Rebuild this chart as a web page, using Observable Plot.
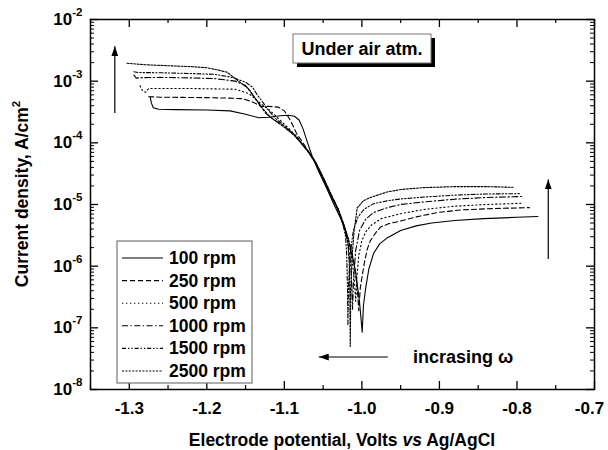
<!DOCTYPE html>
<html><head><meta charset="utf-8">
<script src="https://cdn.jsdelivr.net/npm/d3@7"></script>
<script src="https://cdn.jsdelivr.net/npm/@observablehq/plot@0.6"></script>
<style>
body{margin:0;background:#fff;}
svg{font-family:"Liberation Sans",Arial,sans-serif;}
</style></head><body><div id="chart"></div>
<script>
// ---- data: [potential (V vs Ag/AgCl), current density (A/cm2)] ----
const rpm100 = [[-1.273,5.6e-4],[-1.2715,4.4e-4],[-1.269,3.7e-4],[-1.262,3.5e-4],[-1.24,3.45e-4],[-1.20,3.4e-4],[-1.17,3.3e-4],[-1.15,2.9e-4],[-1.133,2.55e-4],[-1.12,2.6e-4],[-1.105,2.75e-4],[-1.095,2.8e-4],[-1.087,2.7e-4],[-1.081,2.35e-4],[-1.076,1.7e-4],[-1.07,1.0e-4],[-1.064,6.0e-5],[-1.056,3.5e-5],[-1.046,1.9e-5],[-1.036,1.0e-5],[-1.027,5.8e-6],[-1.019,3.2e-6],[-1.012,1.4e-6],[-1.008,8e-7],[-1.003,2.6e-7],[-0.9996,8.5e-8],[-0.998,2.3e-7],[-0.995,4.5e-7],[-0.991,9e-7],[-0.985,1.6e-6],[-0.977,2.3e-6],[-0.967,2.9e-6],[-0.95,3.8e-6],[-0.93,4.5e-6],[-0.91,5.0e-6],[-0.88,5.5e-6],[-0.843,5.9e-6],[-0.80,6.2e-6],[-0.773,6.4e-6]];
const rpm250 = [[-1.275,5.6e-4],[-1.26,5.5e-4],[-1.23,5.45e-4],[-1.2,5.4e-4],[-1.17,5.3e-4],[-1.154,5.2e-4],[-1.141,4.6e-4],[-1.13,3.9e-4],[-1.12,3.9e-4],[-1.108,3.8e-4],[-1.1,3.3e-4],[-1.092,2.3e-4],[-1.084,1.4e-4],[-1.076,1.0e-4],[-1.068,7e-5],[-1.06,4.8e-5],[-1.05,2.7e-5],[-1.04,1.45e-5],[-1.03,8e-6],[-1.022,4.2e-6],[-1.015,2.2e-6],[-1.01,1.1e-6],[-1.006,4.5e-7],[-1.004,1.9e-7],[-1.002,4.5e-7],[-0.997,1.1e-6],[-0.993,1.9e-6],[-0.989,2.6e-6],[-0.982,3.5e-6],[-0.976,4.3e-6],[-0.965,4.9e-6],[-0.95,5.4e-6],[-0.93,6.3e-6],[-0.9,7.5e-6],[-0.87,8.2e-6],[-0.83,8.6e-6],[-0.784,8.9e-6]];
const rpm500 = [[-1.286,8.4e-4],[-1.283,7.0e-4],[-1.279,6.6e-4],[-1.275,7.6e-4],[-1.25,7.6e-4],[-1.22,7.6e-4],[-1.19,7.5e-4],[-1.163,7.4e-4],[-1.146,6.3e-4],[-1.133,4.6e-4],[-1.118,3.3e-4],[-1.105,2.3e-4],[-1.094,1.7e-4],[-1.084,1.25e-4],[-1.07,7.5e-5],[-1.06,4.7e-5],[-1.05,2.6e-5],[-1.04,1.4e-5],[-1.03,7.8e-6],[-1.022,4e-6],[-1.016,2.2e-6],[-1.012,1.1e-6],[-1.0095,5.5e-7],[-1.008,2.7e-7],[-1.0065,6.5e-7],[-1.004,1.5e-6],[-1.0,2.6e-6],[-0.995,3.6e-6],[-0.988,4.6e-6],[-0.975,5.9e-6],[-0.95,7.1e-6],[-0.92,8.3e-6],[-0.88,9.4e-6],[-0.84,1.0e-5],[-0.792,1.05e-5]];
const rpm1000 = [[-1.294,1.25e-3],[-1.291,1.12e-3],[-1.285,1.14e-3],[-1.26,1.15e-3],[-1.22,1.13e-3],[-1.19,1.1e-3],[-1.163,1.0e-3],[-1.15,8.5e-4],[-1.141,6e-4],[-1.133,4.3e-4],[-1.124,3.0e-4],[-1.112,2.3e-4],[-1.1,1.85e-4],[-1.086,1.3e-4],[-1.07,7.3e-5],[-1.06,4.8e-5],[-1.05,2.6e-5],[-1.04,1.4e-5],[-1.03,7.8e-6],[-1.023,4.3e-6],[-1.018,2.4e-6],[-1.0145,1.1e-6],[-1.013,4.5e-7],[-1.012,2e-7],[-1.011,5.5e-7],[-1.008,1.8e-6],[-1.003,3.8e-6],[-0.995,5.8e-6],[-0.985,7.4e-6],[-0.967,8.9e-6],[-0.95,1.0e-5],[-0.92,1.1e-5],[-0.88,1.22e-5],[-0.84,1.3e-5],[-0.792,1.35e-5]];
const rpm1500 = [[-1.294,1.42e-3],[-1.288,1.38e-3],[-1.26,1.37e-3],[-1.22,1.33e-3],[-1.19,1.29e-3],[-1.167,1.15e-3],[-1.15,9.6e-4],[-1.141,8e-4],[-1.135,6e-4],[-1.128,4.6e-4],[-1.12,3.3e-4],[-1.11,2.4e-4],[-1.098,1.8e-4],[-1.085,1.3e-4],[-1.07,7.4e-5],[-1.06,4.9e-5],[-1.05,2.7e-5],[-1.04,1.45e-5],[-1.031,8.5e-6],[-1.025,5.2e-6],[-1.021,3e-6],[-1.0195,1.4e-6],[-1.0185,4e-7],[-1.018,1.1e-7],[-1.0172,5e-7],[-1.015,1.6e-6],[-1.011,3.8e-6],[-1.005,6.3e-6],[-0.997,8.4e-6],[-0.985,1.03e-5],[-0.967,1.15e-5],[-0.95,1.23e-5],[-0.92,1.32e-5],[-0.88,1.42e-5],[-0.84,1.48e-5],[-0.795,1.5e-5]];
const rpm2500 = [[-1.303,1.95e-3],[-1.28,1.85e-3],[-1.25,1.78e-3],[-1.22,1.72e-3],[-1.2,1.65e-3],[-1.189,1.55e-3],[-1.174,1.4e-3],[-1.159,1.0e-3],[-1.146,7.5e-4],[-1.137,5.2e-4],[-1.128,3.6e-4],[-1.118,2.6e-4],[-1.104,1.95e-4],[-1.088,1.35e-4],[-1.07,7.5e-5],[-1.06,5e-5],[-1.05,2.8e-5],[-1.04,1.5e-5],[-1.03,8.2e-6],[-1.022,4.3e-6],[-1.018,2.3e-6],[-1.0163,1.1e-6],[-1.0155,3.5e-7],[-1.015,5e-8],[-1.0143,4e-7],[-1.0125,1.5e-6],[-1.01,3.8e-6],[-1.006,8.8e-6],[-0.998,1.15e-5],[-0.989,1.3e-5],[-0.967,1.6e-5],[-0.95,1.75e-5],[-0.92,1.88e-5],[-0.88,1.95e-5],[-0.84,1.95e-5],[-0.805,1.9e-5]];

const seriesNames = ["100 rpm","250 rpm","500 rpm","1000 rpm","1500 rpm","2500 rpm"];
const seriesData = [rpm100, rpm250, rpm500, rpm1000, rpm1500, rpm2500];

const xTicks = [-1.3,-1.2,-1.1,-1.0,-0.9,-0.8,-0.7];
const xMinorTicks = [-1.35,-1.25,-1.15,-1.05,-0.95,-0.85,-0.75];
const yTicks = [1e-8,1e-7,1e-6,1e-5,1e-4,1e-3,1e-2];

// annotation anchors in data units
const arrowLeft = [[-1.318,3.0e-4],[-1.318,3.6e-3]];
const arrowRight = [[-0.759,1.28e-6],[-0.759,2.5e-5]];
const arrowBottom = [[-0.966,3.3e-8],[-1.055,3.3e-8]];
const arrowLabel = "incrasing \u03c9";
const boxLabel = "Under air atm.";

// ---- styles ----
const dashes = [null, "5,3", "1.3,2.7", "6,2.5,1.3,2.5", "4,2,1.3,2,1.3,2", "2,1.4"];
const W = 608, H = 450, mL = 90, mR = 14, mT = 19, mB = 61;
const innerW = W - mL - mR, innerH = H - mT - mB;
const yMinorTicks = d3.scaleLog().domain([1e-8,1e-2]).ticks().filter(v => !yTicks.some(t => Math.abs(t - v) / t < 1e-6));

const marks = [];
seriesData.forEach((s, i) => {
  marks.push(Plot.line(s, {x: d => d[0], y: d => d[1], stroke: "black", strokeWidth: 1.1, strokeDasharray: dashes[i] || undefined}));
});
marks.push(
  Plot.tickX(xTicks, {insetTop: innerH - 8, strokeWidth: 1.3}),
  Plot.tickX(xTicks, {insetBottom: innerH - 8, strokeWidth: 1.3}),
  Plot.tickX(xMinorTicks, {insetTop: innerH - 4, strokeWidth: 1.2}),
  Plot.tickX(xMinorTicks, {insetBottom: innerH - 4, strokeWidth: 1.2}),
  Plot.tickY(yTicks, {insetRight: innerW - 8, strokeWidth: 1.3}),
  Plot.tickY(yTicks, {insetLeft: innerW - 8, strokeWidth: 1.3}),
  Plot.tickY(yMinorTicks, {insetRight: innerW - 4, strokeWidth: 1}),
  Plot.tickY(yMinorTicks, {insetLeft: innerW - 4, strokeWidth: 1}),
  Plot.frame({stroke: "black", strokeWidth: 1.5}),
  Plot.axisX(xTicks, {tickSize: 0, tickPadding: 12, tickFormat: d => d.toFixed(1), fontSize: 17, fontWeight: "bold", fill: "black", label: null}),
  Plot.axisY(yTicks, {tickSize: 0, tickPadding: 8, tickFormat: d => String(Math.round(Math.log10(d))), fontSize: 17, fontWeight: "bold", fill: "black", label: null})
);

const svg = Plot.plot({
  width: W, height: H,
  marginLeft: mL, marginRight: mR, marginTop: mT, marginBottom: mB,
  x: {domain: [-1.35, -0.7], label: null},
  y: {type: "log", domain: [1e-8, 1e-2], label: null},
  style: {background: "white", color: "black", fontFamily: '"Liberation Sans", Arial, sans-serif'},
  marks
});
document.getElementById("chart").appendChild(svg);

const s = d3.select(svg);
const sx = svg.scale("x"), sy = svg.scale("y");

// keep the last x tick label inside the picture
const xLabels = s.selectAll('g[aria-label="x-axis tick label"] text').nodes();
if (xLabels.length) d3.select(xLabels[xLabels.length - 1]).attr("dx", -5);

// superscript tick labels
s.selectAll('g[aria-label="y-axis tick label"] text').each(function() {
  const e = this.textContent;
  const t = d3.select(this);
  t.text(null);
  t.append("tspan").text("10");
  t.append("tspan").attr("dy", "-9").attr("font-size", "11.5px").text(e);
});

// axis titles
s.append("text").attr("x", (mL + W - mR) / 2).attr("y", 446).attr("text-anchor", "middle")
  .attr("font-size", 17.5).attr("font-weight", "bold")
  .call(t => { t.append("tspan").text("Electrode potential, Volts ");
               t.append("tspan").attr("font-style", "italic").text("vs");
               t.append("tspan").text(" Ag/AgCl"); });
s.append("text").attr("transform", "translate(28,194) rotate(-90)").attr("text-anchor", "middle")
  .attr("font-size", 17.5).attr("font-weight", "bold")
  .call(t => { t.append("tspan").text("Current density, A/cm");
               t.append("tspan").attr("dy", "-8").attr("font-size", "11.5px").text("2"); });

// arrows
const defs = s.append("defs");
defs.append("marker").attr("id", "ah").attr("viewBox", "0 0 10 10").attr("refX", 10).attr("refY", 5)
  .attr("markerUnits", "userSpaceOnUse").attr("markerWidth", 10).attr("markerHeight", 7)
  .attr("orient", "auto").attr("preserveAspectRatio", "none")
  .append("path").attr("d", "M0,0L10,5L0,10Z").attr("fill", "black");
[arrowLeft, arrowRight, arrowBottom].forEach(a => {
  s.append("line").attr("x1", sx.apply(a[0][0])).attr("y1", sy.apply(a[0][1]))
    .attr("x2", sx.apply(a[1][0])).attr("y2", sy.apply(a[1][1]))
    .attr("stroke", "black").attr("stroke-width", 1.2).attr("marker-end", "url(#ah)");
});
s.append("text").attr("x", 413).attr("y", sy.apply(arrowBottom[0][1]) + 6).attr("text-anchor", "start")
  .attr("font-size", 18).attr("font-weight", "bold").text(arrowLabel);

// "Under air atm." box with shadow
const bx = 293, by = 34, bw = 138, bh = 29;
s.append("rect").attr("x", bx + 4).attr("y", by + 4).attr("width", bw).attr("height", bh).attr("fill", "black");
s.append("rect").attr("x", bx).attr("y", by).attr("width", bw).attr("height", bh).attr("fill", "white").attr("stroke", "#777").attr("stroke-width", 1);
s.append("text").attr("x", bx + bw / 2).attr("y", by + bh / 2 + 6.5).attr("text-anchor", "middle")
  .attr("font-size", 18).attr("font-weight", "bold").text(boxLabel);

// legend
const lg = s.append("g");
lg.append("rect").attr("x", 117).attr("y", 241).attr("width", 135).attr("height", 142)
  .attr("fill", "white").attr("stroke", "#777").attr("stroke-width", 1.2);
seriesNames.forEach((n, i) => {
  const cy = 258 + i * 22.6;
  lg.append("line").attr("x1", 122).attr("x2", 163).attr("y1", cy).attr("y2", cy)
    .attr("stroke", "black").attr("stroke-width", 1.1).attr("stroke-dasharray", dashes[i]);
  lg.append("text").attr("x", 169).attr("y", cy + 6).attr("text-anchor", "start")
    .attr("font-size", 17.5).attr("font-weight", "bold").text(n);
});
</script></body></html>
